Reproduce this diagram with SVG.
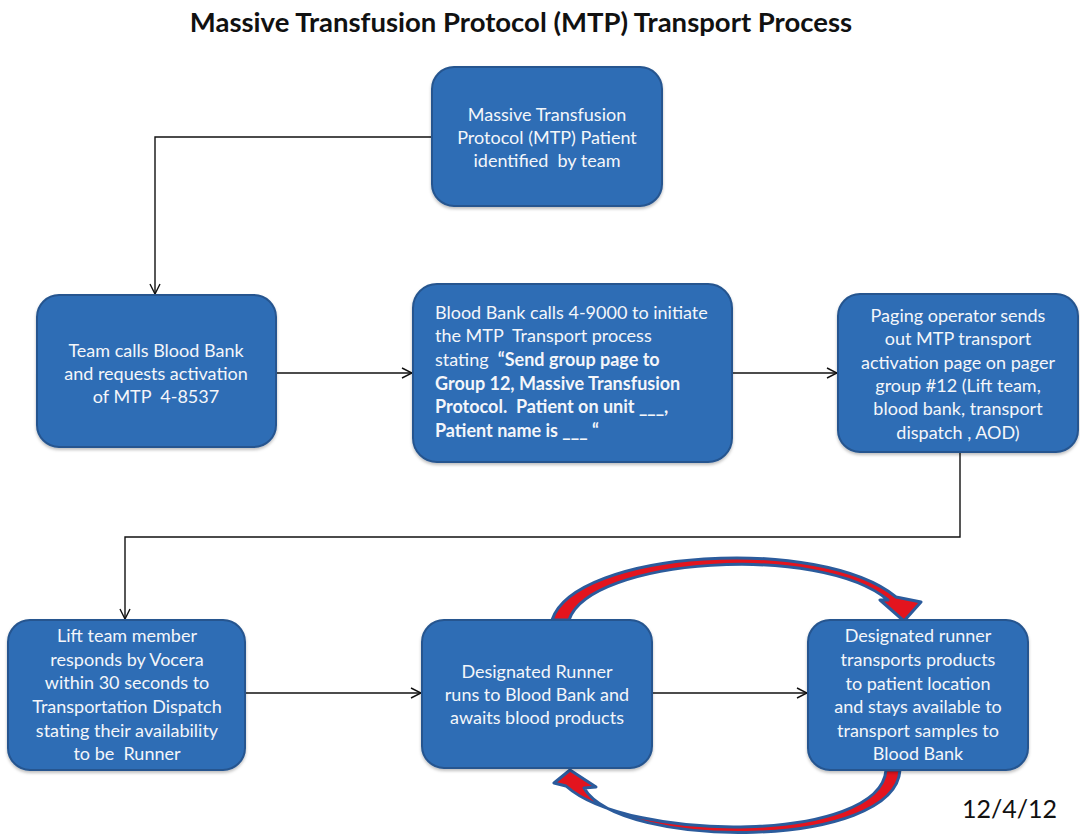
<svg xmlns="http://www.w3.org/2000/svg" width="1080" height="838" viewBox="0 0 1080 838">
  <defs>
    <marker id="arr" viewBox="0 0 12 12" refX="11" refY="6" markerWidth="12" markerHeight="12" markerUnits="userSpaceOnUse" orient="auto">
      <path d="M1,1 L11,6 L1,11" fill="none" stroke="#111" stroke-width="1.4"/>
    </marker>
    <filter id="shadow" x="-10%" y="-10%" width="120%" height="130%">
      <feDropShadow dx="0" dy="2" stdDeviation="1.5" flood-color="#000" flood-opacity="0.25"/>
    </filter>
  </defs>
  <style>
    .box { fill: #2f6db5; stroke: #25558f; stroke-width: 2; filter: url(#shadow); }
    .t { font-family: Lato, "Open Sans", "Liberation Sans", sans-serif; font-size: 18px; fill: #f4f6fa; text-anchor: middle; }
    .tl { text-anchor: start; }
    .b { font-weight: bold; }
    .conn { fill: none; stroke: #111; stroke-width: 1.4; }
    .loop { fill: #e3141e; stroke: #2b5b9c; stroke-width: 3; stroke-linejoin: round; }
    .title { font-family: Lato, "Open Sans", "Liberation Sans", sans-serif; font-size: 27.5px; font-weight: bold; fill: #111; text-anchor: middle; }
    .date { font-family: Lato, "Open Sans", "Liberation Sans", sans-serif; font-size: 25px; fill: #111; }
  </style>

  <rect width="1080" height="838" fill="#ffffff"/>

  <text class="title" x="521" y="32">Massive Transfusion Protocol (MTP) Transport Process</text>

  <!-- connectors -->
  <g id="connectors">
    <path class="conn" d="M432,137 H155 V294" marker-end="url(#arr)"/>
    <path class="conn" d="M276,373 H412" marker-end="url(#arr)"/>
    <path class="conn" d="M732,373 H837" marker-end="url(#arr)"/>
    <path class="conn" d="M960,452 V537 H125 V619" marker-end="url(#arr)"/>
    <path class="conn" d="M245,693 H421" marker-end="url(#arr)"/>
    <path class="conn" d="M652,693 H807" marker-end="url(#arr)"/>
    <!-- loop arrows between runner steps -->
    <path class="loop" d="M552,620 C575,550 820,535 896,597 L921,602 L904,621 L880,600 L888,600 C820,543 590,558 569,620 Z"/>
    <path class="loop" d="M900,770 C895,850 620,850 584,788 L596,787 L570,770 L554,783 L566,786 C630,843 880,843 886,770 Z"/>
  </g>

  <g id="n1">
    <rect class="box" x="432" y="67" width="230" height="139" rx="22"/>
    <text class="t" x="547" y="121">Massive Transfusion</text>
    <text class="t" x="547" y="144">Protocol (MTP) Patient</text>
    <text class="t" x="547" y="167" xml:space="preserve">identified  by team</text>
  </g>

  <g id="n2">
    <rect class="box" x="37" y="295" width="239" height="152" rx="22"/>
    <text class="t" x="156" y="357">Team calls Blood Bank</text>
    <text class="t" x="156" y="380">and requests activation</text>
    <text class="t" x="156" y="403" xml:space="preserve">of MTP  4-8537</text>
  </g>

  <g id="n3">
    <rect class="box" x="413" y="284" width="319" height="178" rx="24"/>
    <text class="t tl" x="435" y="319">Blood Bank calls 4-9000 to initiate</text>
    <text class="t tl" x="435" y="342" xml:space="preserve">the MTP  Transport process</text>
    <text class="t tl" x="435" y="366" xml:space="preserve">stating  <tspan class="b">“Send group page to</tspan></text>
    <text class="t tl b" x="435" y="390">Group 12, Massive Transfusion</text>
    <text class="t tl b" x="435" y="413" xml:space="preserve">Protocol.  Patient on unit ___,</text>
    <text class="t tl b" x="435" y="437">Patient name is ___ “</text>
  </g>

  <g id="n4">
    <rect class="box" x="838" y="294" width="240" height="158" rx="22"/>
    <text class="t" x="958" y="322">Paging operator sends</text>
    <text class="t" x="958" y="345">out MTP transport</text>
    <text class="t" x="958" y="369">activation page on pager</text>
    <text class="t" x="958" y="392">group #12 (Lift team,</text>
    <text class="t" x="958" y="415">blood bank, transport</text>
    <text class="t" x="958" y="439">dispatch , AOD)</text>
  </g>

  <g id="n5">
    <rect class="box" x="8" y="620" width="237" height="150" rx="22"/>
    <text class="t" x="127" y="642">Lift team member</text>
    <text class="t" x="127" y="666">responds by Vocera</text>
    <text class="t" x="127" y="689">within 30 seconds to</text>
    <text class="t" x="127" y="713">Transportation Dispatch</text>
    <text class="t" x="127" y="737">stating their availability</text>
    <text class="t" x="127" y="760" xml:space="preserve">to be  Runner</text>
  </g>

  <g id="n6">
    <rect class="box" x="422" y="620" width="230" height="148" rx="22"/>
    <text class="t" x="537" y="678">Designated Runner</text>
    <text class="t" x="537" y="701">runs to Blood Bank and</text>
    <text class="t" x="537" y="724">awaits blood products</text>
  </g>

  <g id="n7">
    <rect class="box" x="808" y="620" width="220" height="150" rx="22"/>
    <text class="t" x="918" y="642">Designated runner</text>
    <text class="t" x="918" y="666">transports products</text>
    <text class="t" x="918" y="690">to patient location</text>
    <text class="t" x="918" y="713">and stays available to</text>
    <text class="t" x="918" y="737">transport samples to</text>
    <text class="t" x="918" y="760">Blood Bank</text>
  </g>

  <text class="date" x="962" y="818">12/4/12</text>
</svg>
